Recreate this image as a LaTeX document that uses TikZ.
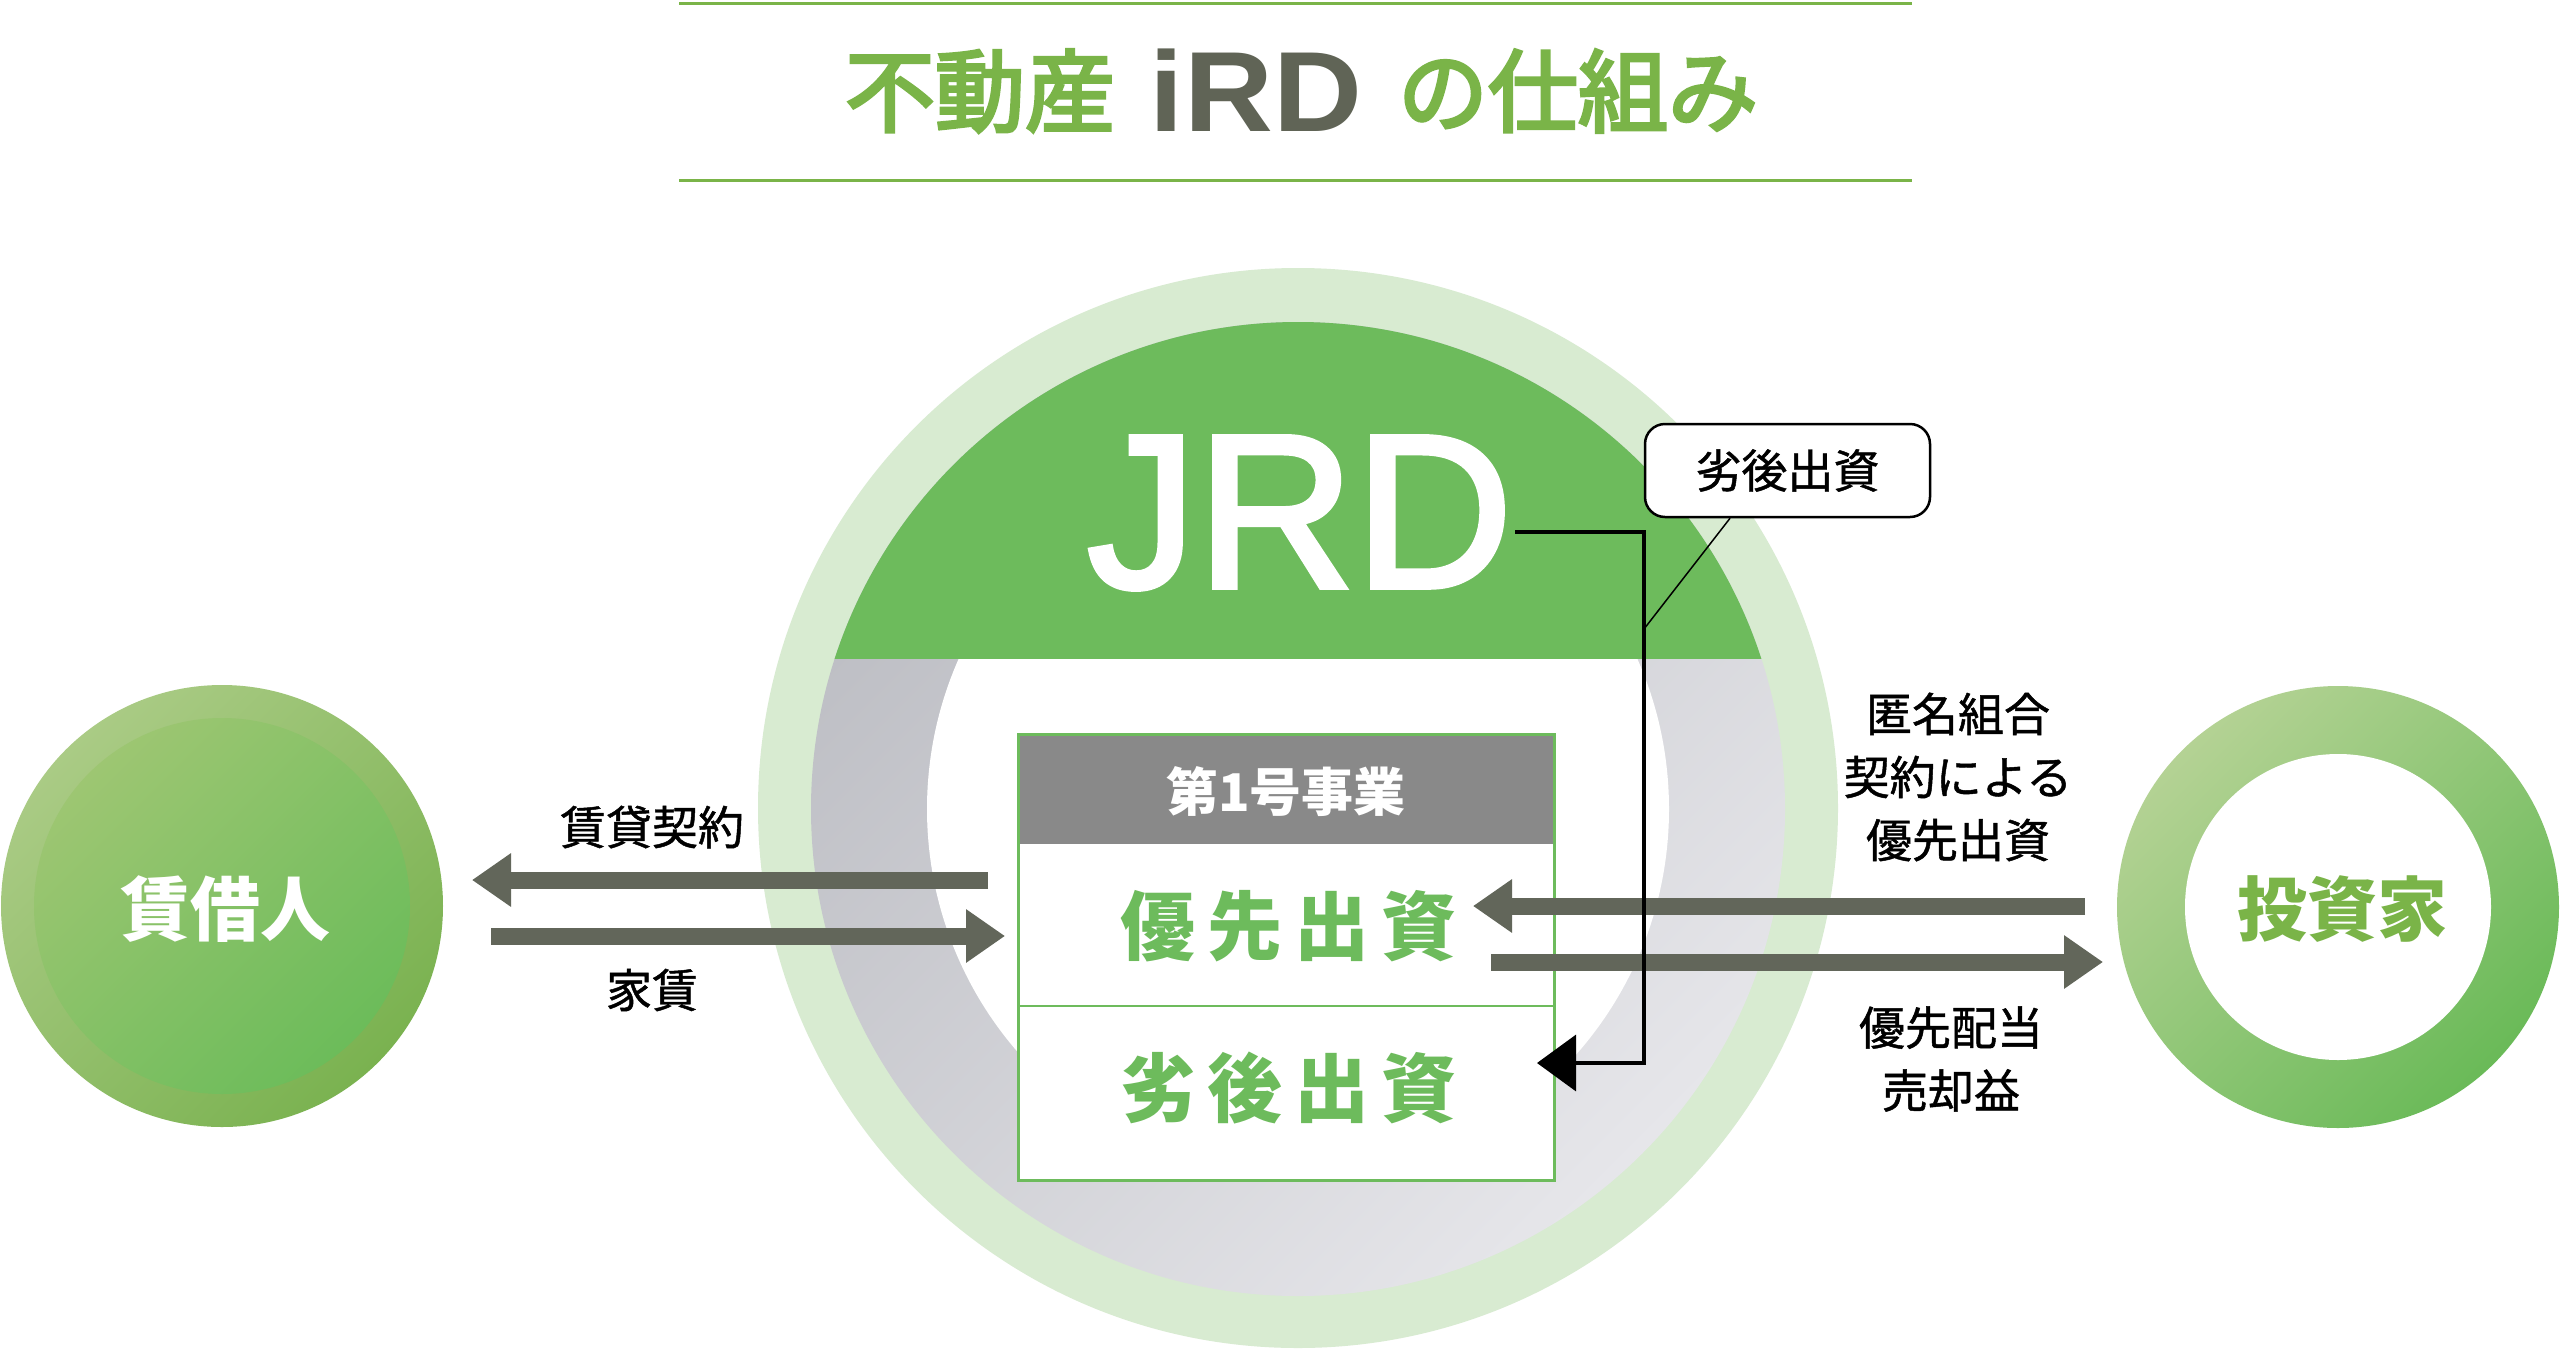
\documentclass[tikz,border=0pt]{standalone}
\usepackage{fontspec}
\usetikzlibrary{arrows.meta,calc}
\newfontfamily\jp{Noto Sans CJK JP}
\newfontfamily\jpmed{Noto Sans CJK JP}[FakeBold=3.5]
\newfontfamily\jplbl{Noto Sans CJK JP}[FakeBold=1]
\newfontfamily\lat{Liberation Sans}
\newfontfamily\latmed{Liberation Sans}[FakeBold=2.3]
\definecolor{titlegreen}{RGB}{122,180,72}
\definecolor{irdgray}{RGB}{96,100,86}
\definecolor{lightring}{RGB}{216,235,209}
\definecolor{capgreen}{RGB}{109,187,92}
\definecolor{ringdark}{RGB}{188,189,195}
\definecolor{ringlight}{RGB}{230,230,234}
\definecolor{headgray}{RGB}{137,137,137}
\definecolor{arrowgray}{RGB}{98,102,90}
\definecolor{lringa}{RGB}{170,203,133}
\definecolor{lringb}{RGB}{122,178,80}
\definecolor{ldiska}{RGB}{157,198,114}
\definecolor{ldiskb}{RGB}{108,188,90}
\definecolor{rringa}{RGB}{180,210,148}
\definecolor{rringb}{RGB}{106,186,88}
\begin{document}
\begin{tikzpicture}[x=0.5pt,y=-0.5pt,
  bigarrow/.style={line width=8.5pt, draw=arrowgray, -{Triangle[length=19.5pt,width=25.5pt]}},
  lbl/.style={font=\jplbl\fontsize{23}{31.5}\selectfont, text=black, inner sep=0pt, align=center},
  titlejp/.style={font=\jpmed\fontsize{45}{50}\selectfont, text=titlegreen, inner sep=0pt},
  boxjp/.style={font=\jp\bfseries\fontsize{37.5}{40}\selectfont, text=capgreen, inner sep=0pt},
  circlejp/.style={font=\jp\bfseries\fontsize{35}{40}\selectfont, inner sep=0pt},
  greenline/.style={draw=capgreen, line width=1.25pt}]
\useasboundingbox (0,0) rectangle (2560,1350);
\fill[white] (0,0) rectangle (2560,1350);

% title
\draw[titlegreen, line width=1.5pt] (679,3) -- (1912,3);
\draw[titlegreen, line width=1.5pt] (679,180) -- (1912,180);
\node[titlejp] (t1) at (980,91) {不動産};
\node[font=\lat\bfseries\fontsize{57}{60}\selectfont, text=irdgray, inner sep=0pt, xscale=1.08] (t2) at (1256,90) {iRD};
\node[titlejp] (t3) at (1578,91) {の仕組み};

% big circle
\fill[lightring] (1298,808) circle[radius=540];
\shade[top color=ringdark, bottom color=ringlight, shading angle=45] (1298,809) circle[radius=487];
\fill[white] (1298,809) circle[radius=371];
\begin{scope}
\clip (0,0) rectangle (2560,658);
\fill[capgreen] (1298,809) circle[radius=487];
\end{scope}
\node[font=\latmed\fontsize{109.5}{110}\selectfont, text=white, inner sep=0pt] (jrd) at (1300,513) {JRD};

% box
\node[fill=white, minimum width=267.5pt, minimum height=222.5pt, inner sep=0pt] (box) at (1286.5,957.5) {};
\fill[headgray] (1019,735) rectangle (1554,844);
\node[font=\jp\bfseries\fontsize{26}{30}\selectfont, text=white, inner sep=0pt] (hdr) at (1286,792) {第1号事業};
\draw[greenline] (1019,1006) -- (1554,1006);
\draw[greenline] (box.north west) rectangle (box.south east);
\node[boxjp] (senior) at (1288,926) {優\kern6pt 先\kern6pt 出\kern6pt 資};
\node[boxjp] (junior) at (1288,1088) {劣\kern6pt 後\kern6pt 出\kern6pt 資};

% left circle
\shade[top color=lringa, bottom color=lringb, shading angle=45] (222,906) circle[radius=221];
\shade[top color=ldiska, bottom color=ldiskb, shading angle=45] (222,906) circle[radius=188];
\node[circlejp, text=white] (tenant) at (225,909) {賃借人};

% right circle
\shade[top color=rringa, bottom color=rringb, shading angle=45] (2338,907) circle[radius=221];
\fill[white] (2338,907) circle[radius=153];
\node[circlejp, text=titlegreen] (investor) at (2342,909) {投資家};

% arrows
\coordinate (a1s) at (988,880);  \coordinate (a1e) at (472,880);
\coordinate (a2s) at (491,936);  \coordinate (a2e) at (1005,936);
\coordinate (a3s) at (2085,906); \coordinate (a3e) at (1473,906);
\coordinate (a4s) at (1491,962); \coordinate (a4e) at (2103,962);
\draw[bigarrow] (a1s) -- (a1e);
\draw[bigarrow] (a2s) -- (a2e);
\draw[bigarrow] (a3s) -- (a3e);
\draw[bigarrow] (a4s) -- (a4e);

% labels
\node[lbl] (l1) at (652,827) {賃貸契約};
\node[lbl] (l2) at (652,990) {家賃};
\node[lbl] (l3) at (1958,777) {匿名組合\\契約による\\優先出資};
\node[lbl] (l4) at (1951,1059) {優先配当\\売却益};

% callout
\node[draw=black, line width=1.25pt, fill=white, rounded corners=10pt, minimum width=142.5pt, minimum height=46.5pt, inner sep=0pt, font=\jplbl\fontsize{23}{28}\selectfont] (callout) at (1787.5,470.5) {劣後出資};

% black connector
\coordinate (jr) at (1515,532);
\coordinate (bend) at (1644,1063);
\coordinate (jtip) at (1537,1063);
\coordinate (ptr) at (1644,629);
\draw[line width=1.75pt, -{Triangle[length=19.5pt,width=28pt]}] (jr) -| (bend) -- (jtip);
\draw[line width=0.75pt] ($(callout.south west)!0.3!(callout.south east)$) -- (ptr);
\end{tikzpicture}
\end{document}
